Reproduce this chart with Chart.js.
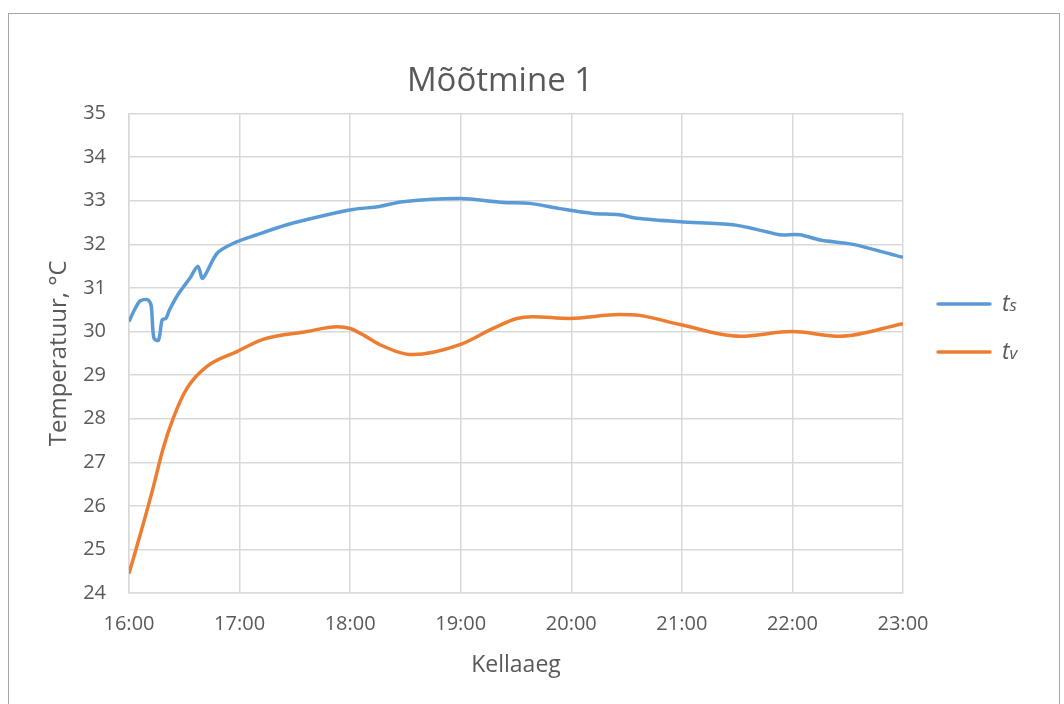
<!DOCTYPE html>
<html>
<head>
<meta charset="utf-8">
<script src="https://cdn.jsdelivr.net/npm/chart.js@4.4.1/dist/chart.umd.min.js"></script>
<style>
  html, body { margin: 0; padding: 0; background: #fff; }
  #wrap { position: relative; width: 1064px; height: 704px; }
  #frame { position: absolute; left: 8px; top: 13px; width: 1052px; height: 700px; border: 1px solid #a6a6a6; box-sizing: border-box; }
  #chart { position: absolute; left: 0; top: 0; }
</style>
</head>
<body>
<div id="wrap">
  <div id="frame"></div>
  <canvas id="chart" width="1064" height="704"></canvas>
</div>
<script>
// time in minutes after 16:00
var tickLabels = ['16:00', '17:00', '18:00', '19:00', '20:00', '21:00', '22:00', '23:00'];

var tsMinutes = [0, 3, 6, 10, 12, 13.5, 16, 18, 20, 22, 26.6, 33, 37.4, 40, 47.7, 56.4, 69.4, 85.7,
    103.6, 121.5, 136, 148.6, 179.6, 203, 217.5, 233.8, 251.7, 266, 275.6, 299, 327.7, 346, 353,
    364, 375, 392.8, 420];
var tsValues = [30.23, 30.5, 30.7, 30.73, 30.6, 29.85, 29.8, 30.27, 30.3, 30.5, 30.85, 31.22, 31.5,
    31.22, 31.79, 32.02, 32.22, 32.45, 32.64, 32.8, 32.87, 32.98, 33.05, 32.96, 32.94, 32.82, 32.71,
    32.68, 32.6, 32.52, 32.45, 32.29, 32.22, 32.22, 32.1, 32.0, 31.7];

var tvMinutes = [0, 6.5, 13, 18.4, 23.9, 31.5, 42.3, 58.6, 72.7, 96.6, 112.8, 120, 128, 136, 154,
    179.6, 197.5, 210.5, 219, 239, 266, 277, 299, 331.5, 359.7, 385.7, 420];
var tvValues = [24.45, 25.4, 26.4, 27.3, 28.0, 28.7, 29.2, 29.54, 29.82, 30.0, 30.11, 30.07, 29.9,
    29.7, 29.47, 29.7, 30.07, 30.3, 30.34, 30.3, 30.39, 30.37, 30.16, 29.89, 30.0, 29.89, 30.18];

function pts(xs, ys) {
    return xs.map(function (x, i) { return { x: x, y: ys[i] }; });
}

var textColor = '#595959';
var gridColor = '#d9d9d9';
var fontFamily = '"Open Sans", sans-serif';

// legend with subscripts, drawn by hand
var subLegend = {
    id: 'subLegend',
    afterDraw: function (chart) {
        var ctx = chart.ctx;
        var subs = ['s', 'v'];
        var rows = [304, 352];
        chart.data.datasets.forEach(function (ds, i) {
            var y = rows[i];
            ctx.save();
            ctx.strokeStyle = ds.borderColor;
            ctx.lineWidth = 3.5;
            ctx.lineCap = 'round';
            ctx.beginPath();
            ctx.moveTo(938, y);
            ctx.lineTo(990, y);
            ctx.stroke();
            ctx.fillStyle = textColor;
            ctx.textBaseline = 'alphabetic';
            ctx.font = 'italic 23px ' + fontFamily;
            ctx.fillText('t', 1002, y + 7);
            var w = ctx.measureText('t').width;
            ctx.font = 'italic 17px ' + fontFamily;
            ctx.fillText(subs[i], 1002 + w, y + 7);
            ctx.restore();
        });
    }
};

new Chart(document.getElementById('chart'), {
    type: 'line',
    data: {
        datasets: [{
            label: 'ts',
            data: pts(tsMinutes, tsValues),
            borderColor: '#5B9BD5',
            borderWidth: 3.5,
            pointRadius: 0,
            tension: 0.3
        }, {
            label: 'tv',
            data: pts(tvMinutes, tvValues),
            borderColor: '#ED7D31',
            borderWidth: 3.5,
            pointRadius: 0,
            cubicInterpolationMode: 'monotone'
        }]
    },
    options: {
        responsive: false,
        animation: false,
        layout: { padding: { left: 0, right: 64, top: 0, bottom: 0 } },
        scales: {
            x: {
                type: 'linear',
                min: 0,
                max: 420,
                afterFit: function (s) { s.height = 111; },
                ticks: {
                    stepSize: 60,
                    padding: 19,
                    color: textColor,
                    font: { family: fontFamily, size: 20 },
                    maxRotation: 0,
                    callback: function (v) { return tickLabels[Math.round(v / 60)]; }
                },
                grid: { color: gridColor, lineWidth: 1.5, drawTicks: false },
                border: { color: gridColor, width: 1.5 },
                title: {
                    display: true,
                    text: 'Kellaaeg',
                    color: textColor,
                    font: { family: fontFamily, size: 23 },
                    padding: { top: 0, bottom: 25 }
                }
            },
            y: {
                min: 24,
                max: 35,
                afterFit: function (s) { s.width = 129; },
                ticks: {
                    stepSize: 1,
                    padding: 23,
                    color: textColor,
                    font: { family: fontFamily, size: 20 }
                },
                grid: { color: gridColor, lineWidth: 1.5, drawTicks: false },
                border: { color: gridColor, width: 1.5 },
                title: {
                    display: true,
                    text: 'Temperatuur, °C',
                    color: textColor,
                    font: { family: fontFamily, size: 24 },
                    padding: { top: 45, bottom: 0 }
                }
            },
            // empty right-hand box: leaves room for the legend
            y2: {
                position: 'right',
                afterFit: function (s) { s.width = 97; },
                ticks: { display: false },
                grid: { display: false, drawTicks: false },
                border: { display: false }
            }
        },
        plugins: {
            legend: { display: false },
            tooltip: { enabled: false },
            title: {
                display: true,
                text: 'Mõõtmine 1',
                color: textColor,
                font: { family: fontFamily, size: 33, weight: 'normal' },
                padding: { top: 62, bottom: 12 }
            }
        }
    },
    plugins: [subLegend]
});
</script>
</body>
</html>
